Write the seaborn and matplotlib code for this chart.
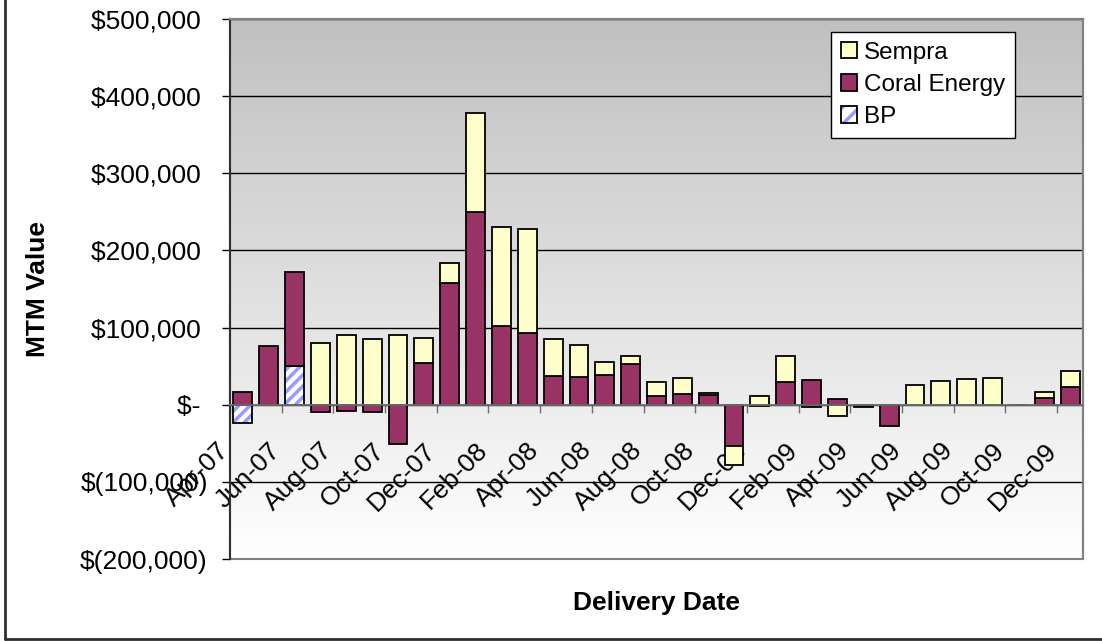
import numpy as np
import pandas as pd
import matplotlib
matplotlib.use("Agg")
import matplotlib.pyplot as plt
import matplotlib.transforms as mtransforms
import seaborn as sns
from matplotlib.patches import Patch, Rectangle
from matplotlib.lines import Line2D
from matplotlib.legend_handler import HandlerTuple

# delivery months, Apr-07 .. Dec-09
months = ["Apr-07", "May-07", "Jun-07", "Jul-07", "Aug-07", "Sep-07", "Oct-07", "Nov-07",
          "Dec-07", "Jan-08", "Feb-08", "Mar-08", "Apr-08", "May-08", "Jun-08", "Jul-08",
          "Aug-08", "Sep-08", "Oct-08", "Nov-08", "Dec-08", "Jan-09", "Feb-09", "Mar-09",
          "Apr-09", "May-09", "Jun-09", "Jul-09", "Aug-09", "Sep-09", "Oct-09", "Nov-09",
          "Dec-09"]

# MTM values in $ per counterparty
bp = [-24000, 0, 50000, 0, 0, 0, 0, 0,
      0, 0, 0, 0, 0, 0, 0, 0,
      0, 0, 0, 0, 0, 0, 0, 0,
      0, 0, 0, 0, 0, 0, 0, 0,
      0]
coral = [16000, 76000, 122000, -9500, -8000, -9000, -50500, 53500,
         158000, 250000, 102500, 93000, 37000, 35500, 38000, 53000,
         11500, 14000, 12000, -54000, -2000, 29000, 32500, 8000,
         -3000, -27000, 0, 0, 0, 0, -1000, 8500,
         22500]
sempra = [0, 0, 0, 80000, 91000, 85000, 91000, 33000,
          25500, 128000, 128500, 135000, 48500, 42500, 18000, 10500,
          17500, 20000, 3500, -24000, 11000, 34500, -3500, -14500,
          0, 0, 26000, 31000, 33500, 34500, 0, 8000,
          21000]

series_names = ["BP", "Coral Energy", "Sempra"]
y_ticks = list(range(-200000, 500001, 100000))

sns.set_style("white")
plt.rcParams["font.family"] = ["Liberation Sans", "DejaVu Sans"]
plt.rcParams["text.color"] = "black"
plt.rcParams["xtick.labelcolor"] = "black"
plt.rcParams["ytick.labelcolor"] = "black"
plt.rcParams["hatch.linewidth"] = 2.5

fig = plt.figure(figsize=(11.02, 6.41), dpi=100)
W, H = 1102, 641
ax = fig.add_axes([230 / W, 1 - 559 / H, (1083 - 230) / W, (559 - 19) / H])

# gradient plot-area background (grey at top -> white at bottom)
grad = np.linspace(0.753, 1.0, 256)[:, None, None] * np.ones((1, 1, 3))
ax.imshow(grad, extent=[0, 1, 0, 1], transform=ax.transAxes, aspect="auto",
          zorder=0, origin="upper")

# stacked bars: positives stack up, negatives stack down
pos = np.zeros(len(months))
neg = np.zeros(len(months))
bottoms = {}
for name, vals in zip(series_names, [bp, coral, sempra]):
    v = np.array(vals, dtype=float)
    bottoms[name] = np.where(v >= 0, pos, neg)
    pos = pos + np.clip(v, 0, None)
    neg = neg + np.clip(v, None, 0)

bar_kw = dict(order=months, width=0.73, errorbar=None, saturation=1, ax=ax)

# BP: blue hatch on white, then black outline
sns.barplot(x=months, y=bp, bottom=bottoms["BP"], color="white",
            edgecolor="#9999FF", hatch="///", linewidth=0, **bar_kw)
sns.barplot(x=months, y=bp, bottom=bottoms["BP"], color="black",
            facecolor="none", edgecolor="black", linewidth=1.3, **bar_kw)
sns.barplot(x=months, y=coral, bottom=bottoms["Coral Energy"], color="#993366",
            edgecolor="black", linewidth=1.3, **bar_kw)
sns.barplot(x=months, y=sempra, bottom=bottoms["Sempra"], color="#FFFFCC",
            edgecolor="black", linewidth=1.3, **bar_kw)

# hide zero-height bars (Excel doesn't draw them)
for c in ax.containers:
    for p in c.patches:
        if p.get_height() == 0:
            p.set_visible(False)

ax.set_xlim(-0.5, len(months) - 0.5)
ax.set_ylim(-200000, 500000)

# y axis
ax.set_yticks(y_ticks)
def money(v):
    if v == 0:
        return "$- "
    if v < 0:
        return "$({:,.0f})".format(-v)
    return "${:,.0f} ".format(v)
ax.set_yticklabels([money(v) for v in y_ticks])
ax.tick_params(axis="y", direction="out", length=6, width=1, color="black",
               pad=10, labelsize=19, left=True)
ax.yaxis.grid(True, color="black", linewidth=1)
ax.set_axisbelow(True)

# x axis at zero, labels every second month at category boundaries
ax.spines["bottom"].set_position(("data", 0))
ax.spines["bottom"].set_color("#707070")
ax.spines["bottom"].set_linewidth(1.3)
xt = [i - 0.5 for i in range(0, len(months), 2)]
ax.set_xticks(xt)
ax.set_xticklabels(months[::2])
ax.tick_params(axis="x", direction="out", length=6, width=1, color="#707070",
               pad=18, labelsize=19, bottom=True)
shift = mtransforms.ScaledTranslation(-13 / 100, 0, fig.dpi_scale_trans)
for lab in ax.get_xticklabels():
    lab.set_rotation(45)
    lab.set_ha("right")
    lab.set_va("top")
    lab.set_rotation_mode("anchor")
    lab.set_transform(lab.get_transform() + shift)

ax.set_xlabel("")
ax.set_ylabel("")
for s in ["top", "right"]:
    ax.spines[s].set_color("#808080")
    ax.spines[s].set_linewidth(1.5)
ax.spines["left"].set_color("#303030")
ax.spines["left"].set_linewidth(1.5)
ax.add_patch(Rectangle((0, 0), 1, 1, transform=ax.transAxes, fill=False,
                       edgecolor="#808080", linewidth=1.5, zorder=0.9, clip_on=False))

# legend
h_sempra = Patch(facecolor="#FFFFCC", edgecolor="black", linewidth=1.3)
h_coral = Patch(facecolor="#993366", edgecolor="black", linewidth=1.3)
h_bp = (Patch(facecolor="white", edgecolor="#9999FF", hatch="//", linewidth=0),
        Patch(facecolor="none", edgecolor="black", linewidth=1.3))
leg = ax.legend(handles=[h_sempra, h_coral, h_bp], labels=["Sempra", "Coral Energy", "BP"],
                handler_map={tuple: HandlerTuple(ndivide=1, pad=0)},
                loc="upper right", bbox_to_anchor=(1015 / W, 1 - 32 / H),
                bbox_transform=fig.transFigure, frameon=True, fancybox=False,
                edgecolor="black", framealpha=1, fontsize=17.5, handlelength=0.65,
                handleheight=0.65, handletextpad=0.3, labelspacing=0.42,
                borderpad=0.4, borderaxespad=0)
leg.get_frame().set_linewidth(1.0)

# axis titles
fig.text(38 / W, 1 - 289 / H, "MTM Value", rotation=90, ha="center", va="center",
         fontsize=19, fontweight="bold")
fig.text(657 / W, 1 - 603 / H, "Delivery Date", ha="center", va="center",
         fontsize=19, fontweight="bold")

# chart-area frame (left and bottom edges visible in the crop)
fig.add_artist(Line2D([5 / W, 5 / W], [1 - 639 / H, 1], color="#303030", linewidth=2))
fig.add_artist(Line2D([5 / W, 1], [1 - 639 / H, 1 - 639 / H], color="#303030", linewidth=2))

fig.savefig("out.png", dpi=100)
